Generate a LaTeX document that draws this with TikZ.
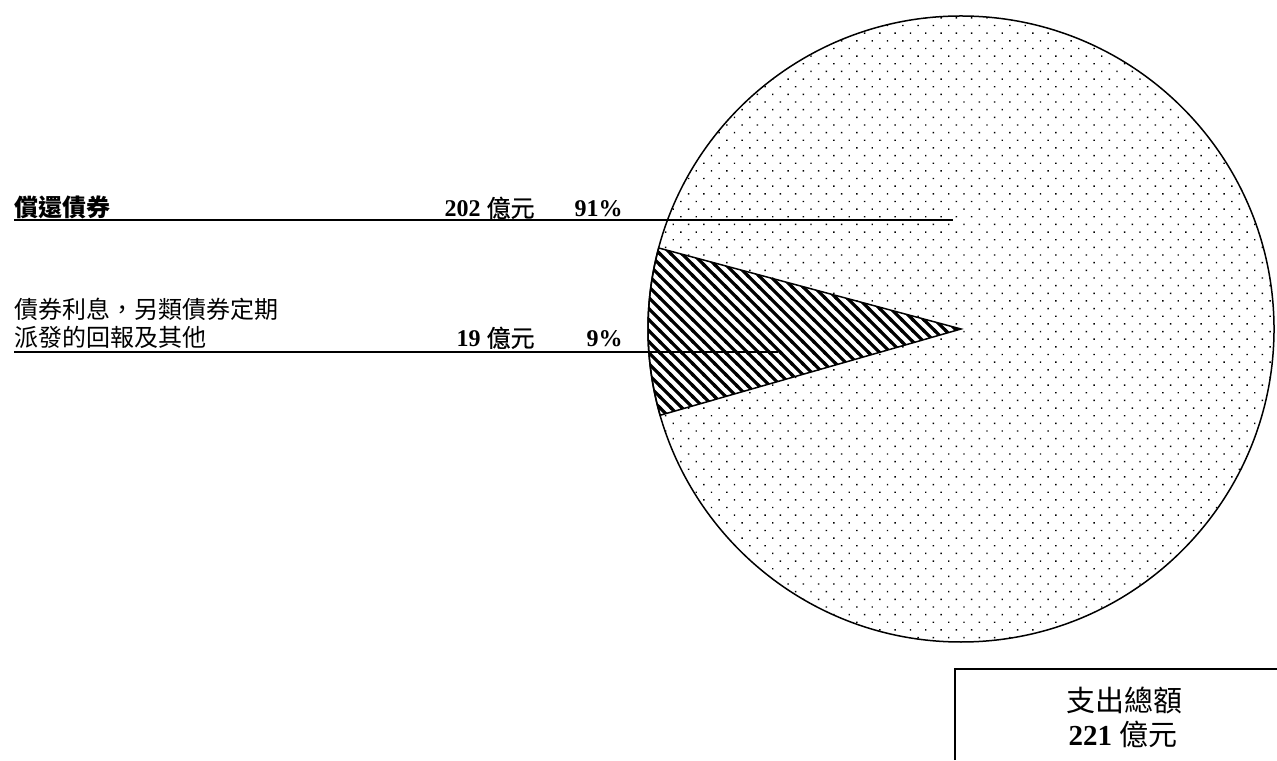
\documentclass[tikz,border=0pt]{standalone}
\usepackage{fontspec}
\setmainfont{Liberation Serif}
\newfontfamily\cjk{Noto Sans CJK TC}
\newfontfamily\cjkmid[FakeBold=0.5]{Noto Sans CJK TC}
\usepackage{tikz}
\usetikzlibrary{patterns,patterns.meta}
\pgfdeclarepatternformonly{wide nw lines}{\pgfqpoint{-1pt}{-1pt}}{\pgfqpoint{6.5pt}{6.5pt}}{\pgfqpoint{5.5pt}{5.5pt}}
{
  \pgfsetlinewidth{1.6pt}
  \pgfpathmoveto{\pgfqpoint{-1pt}{6.5pt}}
  \pgfpathlineto{\pgfqpoint{6.5pt}{-1pt}}
  \pgfusepath{stroke}
}
\tikzset{
  lbl/.style={font=\fontsize{12}{14}\selectfont, inner sep=0pt},
  totaltxt/.style={font=\fontsize{14.5}{17}\selectfont, inner sep=0pt, anchor=base},
  leader/.style={line width=0.75pt},
}

\begin{document}
\begin{tikzpicture}[x=0.5pt,y=0.5pt]
\useasboundingbox (0,0) rectangle (1277,760);
%%%%% pie:
\coordinate (c) at (961,431);
\fill[pattern={Dots[angle=45,distance=5.41pt,radius=0.5pt]}] (c) circle[radius=156.5pt];
\path[fill=white,postaction={pattern=wide nw lines}]
  (c) -- ++(165:313) arc[start angle=165,end angle=196,radius=156.5pt] -- cycle;
\draw[line width=0.75pt] (c) -- ++(165:313) arc[start angle=165,end angle=196,radius=156.5pt] -- cycle;
\draw[line width=0.75pt] (c) circle[radius=156.5pt];
%%%%% labels:
\node[lbl,anchor=base west] (lblbond) at (14,543) {\cjk\bfseries 償還債券};
\node[lbl,anchor=base east] (amtbond) at (535,543) {\bfseries 202 {\cjkmid\mdseries 億元}};
\node[lbl,anchor=base east] (pctbond) at (623,543) {\bfseries 91\%};
\node[lbl,anchor=base west] (lblint1) at (14,441) {\cjk 債券利息，另類債券定期};
\node[lbl,anchor=base west] (lblint2) at (14,413) {\cjk 派發的回報及其他};
\node[lbl,anchor=base east] (amtint) at (535,413) {\bfseries 19 {\cjkmid\mdseries 億元}};
\node[lbl,anchor=base east] (pctint) at (623,413) {\bfseries 9\%};
\coordinate (endbond) at (953,540);
\coordinate (endint) at (778,408);
\draw[leader] (lblbond.base west |- endbond) -- (endbond);
\draw[leader] (lblint2.base west |- endint) -- (endint);
%%%%% total box:
\draw[leader] (955,0) |- (1277,91);
\node[totaltxt] (totaltitle) at (1124,49) {\cjk 支出總額};
\node[totaltxt] (totalamt) at (1123,15) {\textbf{221} {\cjk 億元}};
\end{tikzpicture}
\end{document}
